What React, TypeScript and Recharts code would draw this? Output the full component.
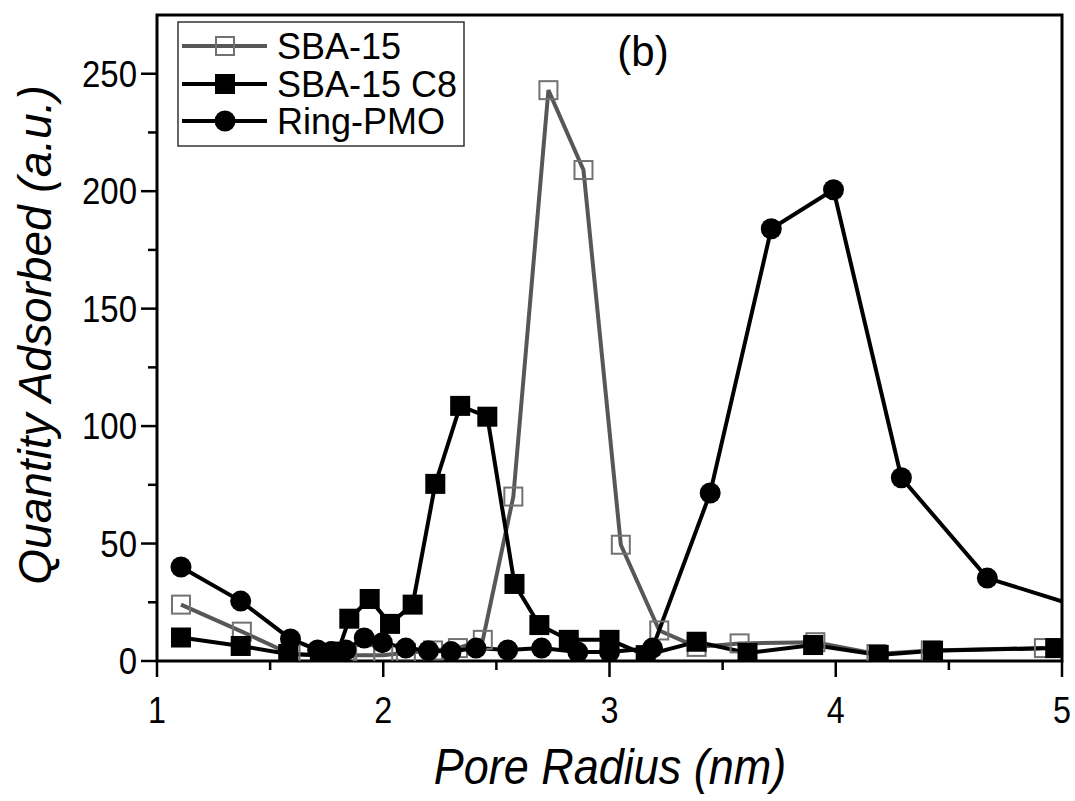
import { LineChart, Line, XAxis, YAxis, ReferenceArea } from 'recharts';

// Pore size distribution
const sba15X = [1.106, 1.375, 1.59, 1.72, 1.83, 1.92, 2.0, 2.1, 2.22, 2.33, 2.44, 2.575, 2.73, 2.885, 3.05, 3.22, 3.385, 3.575, 3.91, 4.18, 4.42, 4.92];
const sba15Y = [24, 12.5, 3, 2.5, 2.5, 2.5, 2.5, 3.5, 4.5, 5.5, 9, 70, 243, 209, 49.5, 13, 6, 7.5, 8, 3, 4.5, 5.5];

const c8X = [1.106, 1.37, 1.58, 1.72, 1.8, 1.85, 1.94, 2.03, 2.13, 2.23, 2.34, 2.46, 2.58, 2.69, 2.82, 3.0, 3.16, 3.385, 3.61, 3.9, 4.19, 4.43, 4.97];
const c8Y = [10, 6.4, 3, 2.5, 4, 18, 26.4, 15.8, 24, 75.4, 108.6, 104, 32.8, 15.3, 9, 9, 2.5, 8.2, 3.4, 6.8, 2.6, 4.4, 5.5];

const pmoX = [1.106, 1.37, 1.59, 1.71, 1.77, 1.835, 1.916, 1.996, 2.1, 2.2, 2.3, 2.41, 2.55, 2.7, 2.86, 3.0, 3.19, 3.445, 3.715, 3.99, 4.29, 4.67, 5.28];
const pmoY = [40, 25.5, 9.4, 4.7, 4, 4.7, 9.8, 7.8, 5.5, 4.4, 4, 5.5, 4.7, 5.5, 3.8, 3.8, 5.5, 71.5, 184, 200.6, 78, 35.3, 17];

const xTicks = [1, 1.5, 2, 2.5, 3, 3.5, 4, 4.5, 5];
const yTicks = [0, 25, 50, 75, 100, 125, 150, 175, 200, 225, 250];

const seriesNames = ['SBA-15', 'SBA-15 C8', 'Ring-PMO'];

const toPoints = (xs: number[], ys: number[]) => xs.map((x, i) => ({ x, y: ys[i] }));

const FONT = '"Liberation Sans", Arial, sans-serif';
const GRAY_LINE = '#575757';
const GRAY_MARK = '#727272';

const OpenSquare = (props: any) => {
  const { cx, cy, index } = props;
  if (cx == null || cy == null) return <g key={index} />;
  return <rect key={index} x={cx - 9} y={cy - 9} width={18} height={18} fill="none" stroke={GRAY_MARK} strokeWidth={2} />;
};

const FilledSquare = (props: any) => {
  const { cx, cy, index } = props;
  if (cx == null || cy == null) return <g key={index} />;
  return <rect key={index} x={cx - 10} y={cy - 10} width={20} height={20} fill="#000" />;
};

const FilledCircle = (props: any) => {
  const { cx, cy, index } = props;
  if (cx == null || cy == null) return <g key={index} />;
  return <circle key={index} cx={cx} cy={cy} r={10.5} fill="#000" />;
};

// major ticks carry labels, the half steps are short minor ticks
const XTick = ({ x, y, payload }: any) => {
  const major = Number.isInteger(payload.value);
  return (
    <g>
      <line x1={x} y1={y} x2={x} y2={y + (major ? 16 : 9)} stroke="#000" strokeWidth={2.5} />
      {major && (
        <text
          x={0}
          y={0}
          transform={`translate(${x} ${y + 62}) scale(0.95 1.1)`}
          textAnchor="middle"
          fontSize={34}
          fontFamily={FONT}
          fill="#000"
        >
          {payload.value}
        </text>
      )}
    </g>
  );
};

const YTick = ({ x, y, payload }: any) => {
  const major = payload.value % 50 === 0;
  return (
    <g>
      <line x1={x} y1={y} x2={x - (major ? 16 : 9)} y2={y} stroke="#000" strokeWidth={2.5} />
      {major && (
        <text
          x={0}
          y={0}
          transform={`translate(${x - 20} ${y + 13}) scale(0.97 1.1)`}
          textAnchor="end"
          fontSize={34}
          fontFamily={FONT}
          fill="#000"
        >
          {payload.value}
        </text>
      )}
    </g>
  );
};

export default function App() {
  const rowY = [46, 84, 121];
  return (
    <div style={{ position: 'absolute', left: 0, top: 0, width: 1075, height: 801, background: '#fff' }}>
      <LineChart width={1075} height={801} margin={{ top: 15, right: 13, left: 77, bottom: 80 }}>
        <XAxis
          type="number"
          dataKey="x"
          domain={[1, 5]}
          allowDataOverflow
          ticks={xTicks}
          tick={<XTick />}
          tickSize={0}
          tickMargin={0}
          tickLine={false}
          axisLine={false}
          height={60}
          interval={0}
        />
        <YAxis
          type="number"
          dataKey="y"
          domain={[0, 275]}
          allowDataOverflow
          ticks={yTicks}
          tick={<YTick />}
          tickSize={0}
          tickMargin={0}
          tickLine={false}
          axisLine={false}
          width={80}
          interval={0}
        />
        <ReferenceArea x1={1} x2={5} y1={0} y2={275} fill="none" stroke="#000" strokeWidth={3} />
        <Line
          data={toPoints(sba15X, sba15Y)}
          dataKey="y"
          name={seriesNames[0]}
          type="linear"
          stroke={GRAY_LINE}
          strokeWidth={4}
          dot={OpenSquare}
          activeDot={false}
          isAnimationActive={false}
        />
        <Line
          data={toPoints(c8X, c8Y)}
          dataKey="y"
          name={seriesNames[1]}
          type="linear"
          stroke="#000"
          strokeWidth={4}
          dot={FilledSquare}
          activeDot={false}
          isAnimationActive={false}
        />
        <Line
          data={toPoints(pmoX, pmoY)}
          dataKey="y"
          name={seriesNames[2]}
          type="linear"
          stroke="#000"
          strokeWidth={4}
          dot={FilledCircle}
          activeDot={false}
          isAnimationActive={false}
        />
      </LineChart>
      <svg
        width={1075}
        height={801}
        style={{ position: 'absolute', left: 0, top: 0, pointerEvents: 'none' }}
      >
        {/* legend */}
        <rect x={178} y={22} width={286} height={124} fill="#fff" stroke="#333" strokeWidth={1.5} />
        {seriesNames.map((name, i) => (
          <g key={name}>
            <line x1={182} y1={rowY[i]} x2={267} y2={rowY[i]} stroke={i === 0 ? GRAY_LINE : '#000'} strokeWidth={4} />
            {i === 0 && <rect x={216} y={rowY[i] - 9} width={18} height={18} fill="none" stroke={GRAY_MARK} strokeWidth={2} />}
            {i === 1 && <rect x={215} y={rowY[i] - 10} width={20} height={20} fill="#000" />}
            {i === 2 && <circle cx={225} cy={rowY[i]} r={10.5} fill="#000" />}
            <text x={277} y={rowY[i] + 13} fontSize={36} fontFamily={FONT} fill="#000">
              {name}
            </text>
          </g>
        ))}
        <text x={643} y={66} textAnchor="middle" fontSize={42} fontFamily={FONT} fill="#000">
          (b)
        </text>
        <text
          x={0}
          y={0}
          transform="translate(610 784) scale(1 1.1)"
          textAnchor="middle"
          fontSize={45}
          fontStyle="italic"
          fontFamily={FONT}
          fill="#000"
        >
          Pore Radius (nm)
        </text>
        <text
          x={0}
          y={0}
          transform="translate(51 335) rotate(-90)"
          textAnchor="middle"
          fontSize={46}
          fontStyle="italic"
          fontFamily={FONT}
          fill="#000"
        >
          Quantity Adsorbed (a.u.)
        </text>
      </svg>
    </div>
  );
}
